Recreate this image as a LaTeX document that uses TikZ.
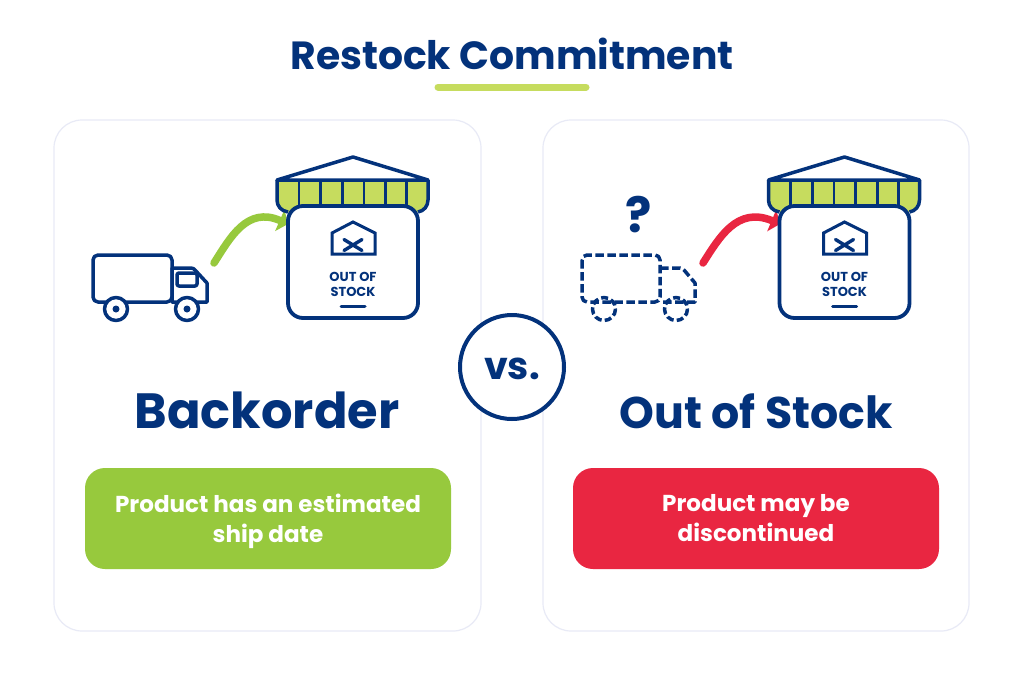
\documentclass[tikz,border=0pt]{standalone}
\usepackage{fontspec}
\setmainfont{Poppins}
\usetikzlibrary{arrows.meta}
\definecolor{navy}{HTML}{03327B}
\definecolor{lime}{HTML}{97C93D}
\definecolor{pale}{HTML}{C6DC5E}
\definecolor{redc}{HTML}{E92641}
\definecolor{cardline}{HTML}{E8EAF6}
\tikzset{
  ink/.style={draw=navy,line width=3.5pt,line join=round},
  thin ink/.style={draw=navy,line width=2.6pt},
  card/.style={draw=cardline,line width=1.2pt,rounded corners=28pt,fill=white},
  pill/.style={rounded corners=20pt},
  pilltext/.style={text=white,font=\bfseries\fontsize{23.05}{30}\selectfont,align=center},
  big/.style={text=navy,font=\bfseries\fontsize{49.5}{56}\selectfont},
  flow/.style={line width=7.5pt,line cap=round,-{Triangle[length=9pt,width=23pt]}},
  dash truck/.style={draw=navy,line width=3.5pt,dash pattern=on 8.5pt off 3.5pt,line join=round},
  pics/depot/.style={code={
    \fill[pale] (277,180) -- (428,180) -- (428,200) .. controls (428,206) and (424,211) .. (418,212) -- (288,212) .. controls (281,211) and (277,206) .. (277,200) -- cycle;
    \draw[ink,fill=white] (277,180) -- (353,157) -- (428,180) -- cycle;
    \draw[ink] (277,180) -- (277,200) .. controls (277,206) and (281,211) .. (288,212);
    \draw[ink] (428,180) -- (428,200) .. controls (428,206) and (424,211) .. (418,212);
    \foreach \tx in {299,320.7,342.3,364,385.7,406.7} \draw[thin ink] (\tx,180) -- (\tx,206);
    \draw[ink,line width=3.8pt,fill=white,rounded corners=15pt] (288,206) rectangle (418,318);
    \draw[ink,line width=3pt,line join=miter] (332,233) -- (353,222) -- (375,233) -- (375,254) -- (332,254) -- cycle;
    \draw[navy,line width=3.4pt,line cap=round] (344,239.5) -- (362,250.5) (362,239.5) -- (344,250.5);
    \node[text=navy,font=\bfseries\fontsize{13}{14}\selectfont] at (353,277) {OUT OF};
    \node[text=navy,font=\bfseries\fontsize{13}{14}\selectfont] at (353,292) {STOCK};
    \draw[navy,line width=3pt,line cap=round] (341,306.5) -- (365,306.5);
  }},
}
\begin{document}
\begin{tikzpicture}[x=1pt,y=-1pt]
\useasboundingbox[fill=white] (0,0) rectangle (1024,683);
\node[text=navy,font=\bfseries\fontsize{39.3}{44}\selectfont] (title) at (512,54) {Restock Commitment};
\coordinate (ulA) at (438,87); \coordinate (ulB) at (586,87);
\draw[pale,line width=7pt,line cap=round] (ulA) -- (ulB);

\draw[card] (54,120) rectangle (481,631);
\draw[card] (543,120) rectangle (969,631);

% left arrow and depot
\coordinate (g0) at (214,263); \coordinate (g1) at (288,224);
\draw[lime,flow] (g0) .. controls (230,238) and (247,206) .. (g1);
\pic at (0,0) {depot};

% left truck
\draw[ink,fill=white,rounded corners=5pt] (93,255) rectangle (172,302);
\draw[ink,fill=white] (172,268) -- (191,268) .. controls (193,268) and (194,269) .. (195,270) -- (207,283) -- (207,302) -- (172,302) -- cycle;
\draw[ink,rounded corners=2pt] (177,273) rectangle (197,286);
\foreach \wx in {116,187} {
  \draw[ink,fill=white] (\wx,309) circle (11.5);
  \fill[navy] (\wx,309) circle (3.5);
}

% right arrow and depot
\coordinate (r0) at (703,263); \coordinate (r1) at (780,224);
\draw[redc,flow] (r0) .. controls (719,238) and (737,206) .. (r1);
\pic at (491.5,0) {depot};

% right truck
\node[text=navy,font=\bfseries\fontsize{49}{50}\selectfont] (q) at (639,215) {?};
\draw[dash truck,rounded corners=5pt] (582,255) rectangle (660,302);
\draw[dash truck] (660,268) -- (680,268) .. controls (682,268) and (683,269) .. (684,270) -- (695,283) -- (695,302) -- (660,302);
\foreach \wx in {604,676} \draw[dash truck,dash pattern=on 7pt off 3.2pt] (\wx,309) circle (11.5);

% vs
\node[draw=navy,line width=4pt,circle,minimum size=104pt,fill=white,inner sep=0pt] (vs) at (512,367) {};
\node[text=navy,font=\bfseries\fontsize{38}{44}\selectfont] (vst) at (512,369) {vs.};

\node[big] (bo) at (267,410) {Backorder};
\node[text=navy,font=\bfseries\fontsize{44.3}{50}\selectfont] (oos) at (756,411) {Out of Stock};

\fill[lime,pill] (85,468) rectangle (451,569);
\fill[redc,pill] (573,468) rectangle (939,569);
\node[pilltext] (gt) at (268,521) {Product has an estimated\\ship date};
\node[pilltext] (rt) at (756,518) {Product may be\\discontinued};
\end{tikzpicture}
\end{document}
